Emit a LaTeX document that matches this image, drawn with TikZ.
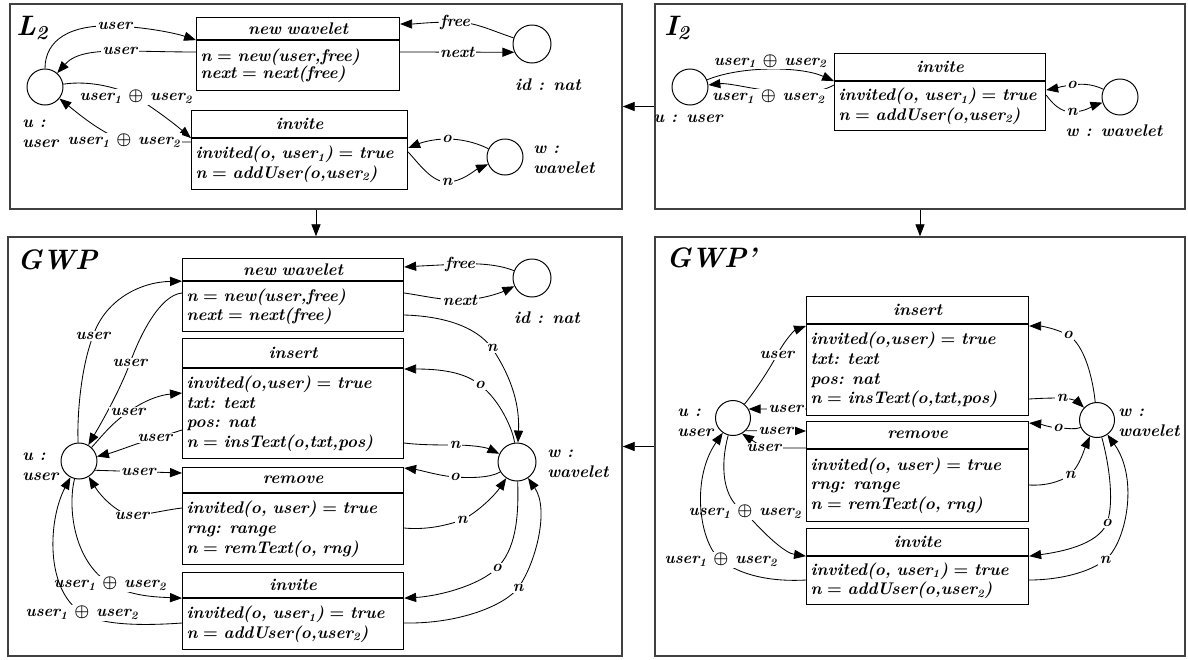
\documentclass[tikz,border=0pt]{standalone}
\usetikzlibrary{arrows.meta, positioning}
\newcommand{\uxu}{user\textsubscript{1} $\oplus$ user\textsubscript{2}}

\begin{document}
\begin{tikzpicture}[x=0.025cm, y=-0.025cm,
    every node/.style={font=\fontsize{12}{14}\selectfont\bfseries\itshape\boldmath},
    panel/.style={draw=black!75, line width=1pt},
    place/.style={circle, draw, minimum size=0.9cm, inner sep=0pt, line width=0.7pt},
    thead/.style={draw, anchor=north west, text width=#1, align=center,
                  inner xsep=0.1cm, inner ysep=0pt, line width=0.8pt},
    tbody/.style={draw, text width=#1, align=left,
                  inner xsep=0.1cm, inner ysep=0pt, line width=0.8pt},
    tag/.style={align=left, inner sep=0pt},
    lbl/.style={fill=white, inner sep=1pt,
                font=\fontsize{11.5}{13}\selectfont\bfseries\itshape\boldmath},
    title/.style={anchor=west, inner sep=0pt,
                  font=\fontsize{20}{22}\selectfont\bfseries\itshape},
    arr/.style={-{Triangle[length=8.5pt, width=6.5pt]}, line width=0.6pt},
  ]
    \useasboundingbox (0,0) rectangle (1188,659);

    % Panels
    \node[panel, minimum width=15.3cm, minimum height=5.125cm] (pL) at (316,106.5) {};
    \node[panel, minimum width=13.25cm, minimum height=5.125cm] (pI) at (920,106.5) {};
    \node[panel, minimum width=15.35cm, minimum height=10.475cm] (pG) at (315,446.5) {};
    \node[panel, minimum width=13.25cm, minimum height=10.475cm] (pP) at (920,446.5) {};
    \draw[arr] (pI.west) -- (pL.east);
    \draw[arr] (pL.south) -- (pL.south |- pG.north);
    \draw[arr] (pI.south) -- (pP.north);
    \draw[arr] (pP.west) -- (pG.east);

    % L2
    \node[title] (tL) at (16,28) {L\textsubscript{2}};
    \node[place] (u2) at (45,87) {};
    \node[place, minimum size=0.95cm] (id2) at (532,44) {};
    \node[place] (w2) at (505,157) {};
    \node[tag, anchor=west] (lu2) at (22,134) {u :\\user};
    \node[tag] (lid2) at (548,85) {id : nat};
    \node[tag, anchor=west] (lw2) at (533,160) {w :\\wavelet};
    \node[thead=4.875cm, minimum height=0.55cm] (nw2h) at (196,17) {new wavelet};
    \node[tbody=4.875cm, minimum height=1.25cm, below=0pt of nw2h] (nw2b)
      {n $=$ new(user,free)\\[-2pt]next $=$ next(free)};
    \node[thead=5.2cm, minimum height=0.675cm] (inv2h) at (191,110) {invite};
    \node[tbody=5.2cm, minimum height=1.275cm, below=0pt of inv2h] (inv2b)
      {invited(o, user\textsubscript{1}) $=$ true\\n $=$ addUser(o,user\textsubscript{2})};

    \draw[arr] (u2) .. controls (45,40) and (70,24) .. (115,26) node[lbl] {user}
      .. controls (145,27) and (175,33) .. (nw2h.south west);
    \draw[arr] (nw2b.west |- 0,52) .. controls (170,52) and (140,51) .. (120,51) node[lbl] {user}
      .. controls (95,51) and (75,53) .. (u2);
    \draw[arr] (u2) .. controls (90,80) and (120,88) .. (136,97) node[lbl] {\uxu}
      .. controls (150,106) and (170,120) .. (inv2h.south west);
    \draw[arr] (inv2b.west |- 0,142) .. controls (178,142) and (155,142) .. (124,141) node[lbl] {\uxu}
      .. controls (100,132) and (80,115) .. (u2);
    \draw[arr] (id2) .. controls (490,30) and (475,22) .. (455,22) node[lbl] {free}
      .. controls (430,22) and (415,24) .. (nw2h.east |- 0,24);
    \draw[arr] (nw2b.east |- 0,52) -- node[lbl] {next} (id2.205);
    \draw[arr] (w2) .. controls (475,142) and (460,139) .. (447,139) node[lbl] {o}
      .. controls (430,139) and (418,144) .. (inv2b.east |- 0,148);
    \draw[arr] (inv2b.east |- 0,152) .. controls (420,165) and (432,182) .. (447,182) node[lbl] {n}
      .. controls (462,182) and (475,170) .. (w2);

    % I2
    \node[title] (tI) at (664,28) {I\textsubscript{2}};
    \node[place] (uI) at (690,87) {};
    \node[place] (wI) at (1120,97) {};
    \node[tag] (luI) at (688,119) {u : user};
    \node[tag] (lwI) at (1114,131) {w : wavelet};
    \node[thead=5.075cm, minimum height=0.675cm] (invIh) at (834,53) {invite};
    \node[tbody=5.075cm, minimum height=1.225cm, below=0pt of invIh] (invIb)
      {invited(o, user\textsubscript{1}) $=$ true\\n $=$ addUser(o,user\textsubscript{2})};

    \draw[arr] (uI) .. controls (740,66) and (800,66) .. (invIh.south west)
      node[lbl, pos=0.5, above=0pt] {\uxu};
    \draw[arr] (invIb.west |- 0,85) .. controls (800,104) and (735,82) .. (uI)
      node[lbl, pos=0.5, below=-2pt] {\uxu};
    \draw[arr] (wI) .. controls (1090,83) and (1080,84) .. (1072,85) node[lbl] {o}
      .. controls (1062,86) and (1052,89) .. (invIb.east |- 0,90);
    \draw[arr] (invIb.east |- 0,95) .. controls (1052,103) and (1060,112) .. (1072,112) node[lbl] {n}
      .. controls (1085,112) and (1095,105) .. (wI);

    % GWP
    \node[title] (tG) at (17,260) {GWP};
    \node[place] (uG) at (79,461) {};
    \node[place, minimum size=0.95cm] (idG) at (532,278) {};
    \node[place, minimum size=0.95cm] (wG) at (517,462) {};
    \node[tag, anchor=west] (luG) at (22,467) {u :\\user};
    \node[tag] (lidG) at (547,318) {id : nat};
    \node[tag, anchor=west] (lwG) at (547,464) {w :\\wavelet};
    \node[thead=5.325cm, minimum height=0.55cm] (nwGh) at (182,258) {new wavelet};
    \node[tbody=5.325cm, minimum height=1.25cm, below=0pt of nwGh] (nwGb)
      {n $=$ new(user,free)\\next $=$ next(free)};
    \node[thead=5.325cm, minimum height=0.725cm] (insGh) at (182,338) {insert};
    \node[tbody=5.325cm, minimum height=2.25cm, below=0pt of insGh] (insGb)
      {invited(o,user) $=$ true\\txt: text\\pos: nat\\n $=$ insText(o,txt,pos)};
    \node[thead=5.325cm, minimum height=0.625cm] (remGh) at (182,467) {remove};
    \node[tbody=5.325cm, minimum height=1.775cm, below=0pt of remGh] (remGb)
      {invited(o, user) $=$ true\\rng: range\\n $=$ remText(o, rng)};
    \node[thead=5.325cm, minimum height=0.625cm] (invGh) at (182,572) {invite};
    \node[tbody=5.325cm, minimum height=1.275cm, below=0pt of invGh] (invGb)
      {invited(o, user\textsubscript{1}) $=$ true\\n $=$ addUser(o,user\textsubscript{2})};

    \draw[arr] (uG) .. controls (77,420) and (80,370) .. (93,336) node[lbl] {user}
      .. controls (105,300) and (140,282) .. (nwGh.south west);
    \draw[arr] (nwGb.west |- 0,293) .. controls (160,295) and (140,335) .. (130,363) node[lbl] {user}
      .. controls (120,390) and (103,420) .. (uG);
    \draw[arr] (uG) .. controls (103,435) and (110,425) .. (128,412) node[lbl] {user}
      .. controls (145,400) and (160,395) .. (insGb.west |- 0,393);
    \draw[arr] (insGb.west |- 0,430) .. controls (175,432) and (165,436) .. (155,438) node[lbl] {user}
      .. controls (135,444) and (115,452) .. (uG);
    \draw[arr] (uG.-30) -- node[lbl] {user} (remGh.west |- 0,473);
    \draw[arr] (remGb.west |- 0,508) .. controls (165,510) and (150,514) .. (132,516) node[lbl] {user}
      .. controls (115,512) and (100,495) .. (uG);
    \draw[arr] (uG) .. controls (68,505) and (72,560) .. (110,584) node[lbl] {\uxu}
      .. controls (130,596) and (155,597) .. (invGh.south west);
    \draw[arr] (invGb.west |- 0,623) .. controls (140,626) and (100,625) .. (82,613) node[lbl] {\uxu}
      .. controls (45,590) and (48,520) .. (uG);
    \draw[arr] (idG) .. controls (500,265) and (480,263) .. (460,264) node[lbl] {free}
      .. controls (440,265) and (420,266) .. (nwGh.east |- 0,267);
    \draw[arr] (nwGb.east |- 0,293) .. controls (425,296) and (440,300) .. (460,300) node[lbl] {next}
      .. controls (480,300) and (500,293) .. (idG);
    \draw[arr] (nwGb.east |- 0,315) .. controls (440,316) and (475,325) .. (492,348) node[lbl] {n}
      .. controls (508,372) and (520,400) .. (wG);
    \draw[arr] (wG) .. controls (513,430) and (500,400) .. (480,385) node[lbl] {o}
      .. controls (465,372) and (440,369) .. (insGb.east |- 0,369);
    \draw[arr] (insGb.east |- 0,443) .. controls (420,445) and (440,445) .. (455,445) node[lbl] {n}
      .. controls (470,445) and (485,447) .. (wG);
    \draw[arr] (wG) .. controls (490,478) and (470,478) .. (455,477) node[lbl] {o}
      .. controls (440,476) and (420,470) .. (remGh.east |- 0,468);
    \draw[arr] (remGb.east |- 0,528) .. controls (425,530) and (445,526) .. (462,520) node[lbl] {n}
      .. controls (478,512) and (495,495) .. (wG);
    \draw[arr] (wG) .. controls (519,520) and (515,550) .. (497,568) node[lbl] {o}
      .. controls (480,585) and (440,596) .. (invGh.south east);
    \draw[arr] (invGb.east |- 0,623) .. controls (460,624) and (505,605) .. (518,588) node[lbl] {n}
      .. controls (535,565) and (550,510) .. (wG);

    % GWP'
    \node[title] (tP) at (666,258) {GWP'};
    \node[place, minimum size=0.875cm] (uP) at (733,418) {};
    \node[place, minimum size=0.875cm] (wP) at (1097,420) {};
    \node[tag, anchor=west] (luP) at (677,423) {u :\\user};
    \node[tag, anchor=west] (lwP) at (1118,423) {w :\\wavelet};
    \node[thead=5.35cm, minimum height=0.675cm] (insPh) at (806,296) {insert};
    \node[tbody=5.35cm, minimum height=2.275cm, below=0pt of insPh] (insPb)
      {invited(o,user) $=$ true\\txt: text\\pos: nat\\n $=$ insText(o,txt,pos)};
    \node[thead=5.35cm, minimum height=0.675cm] (remPh) at (806,421) {remove};
    \node[tbody=5.35cm, minimum height=1.8cm, below=0pt of remPh] (remPb)
      {invited(o, user) $=$ true\\rng: range\\n $=$ remText(o, rng)};
    \node[thead=5.35cm, minimum height=0.675cm] (invPh) at (806,528) {invite};
    \node[tbody=5.35cm, minimum height=1.2cm, below=0pt of invPh] (invPb)
      {invited(o, user\textsubscript{1}) $=$ true\\n $=$ addUser(o,user\textsubscript{2})};

    \draw[arr] (uP) .. controls (752,395) and (768,372) .. (777,355) node[lbl] {user}
      .. controls (786,338) and (795,330) .. (insPb.west |- 0,326);
    \draw[arr] (insPb.west |- 0,409) -- node[lbl, pos=0.35] {user} (uP.30);
    \draw[arr] (uP.-45) -- node[lbl] {user} (remPh.west |- 0,431);
    \draw[arr] (remPb.west |- 0,448) -- (764,448) node[lbl] {user} -- (uP.-60);
    \draw[arr] (uP) .. controls (720,465) and (722,500) .. (745,512) node[lbl] {\uxu}
      .. controls (765,535) and (785,553) .. (invPh.south west);
    \draw[arr] (invPb.west |- 0,580) .. controls (770,582) and (740,575) .. (721,560) node[lbl] {\uxu}
      .. controls (700,545) and (690,480) .. (uP);
    \draw[arr] (wP) .. controls (1093,380) and (1085,345) .. (1068,335) node[lbl] {o}
      .. controls (1055,328) and (1040,326) .. (insPb.east |- 0,326);
    \draw[arr] (insPb.east |- 0,399) .. controls (1045,398) and (1055,398) .. (1062,398) node[lbl] {n}
      .. controls (1070,398) and (1078,402) .. (wP);
    \draw[arr] (wP) .. controls (1075,430) and (1068,428) .. (1058,428) node[lbl] {o}
      .. controls (1048,427) and (1040,424) .. (remPh.east |- 0,423);
    \draw[arr] (remPb.east |- 0,485) .. controls (1045,486) and (1060,482) .. (1070,475) node[lbl] {n}
      .. controls (1080,465) and (1084,450) .. (wP);
    \draw[arr] (wP) .. controls (1108,460) and (1115,500) .. (1107,523) node[lbl] {o}
      .. controls (1098,545) and (1060,552) .. (invPh.south east);
    \draw[arr] (invPb.east |- 0,580) .. controls (1060,580) and (1090,572) .. (1105,560) node[lbl] {n}
      .. controls (1125,545) and (1140,480) .. (wP);
  \end{tikzpicture}
\end{document}
